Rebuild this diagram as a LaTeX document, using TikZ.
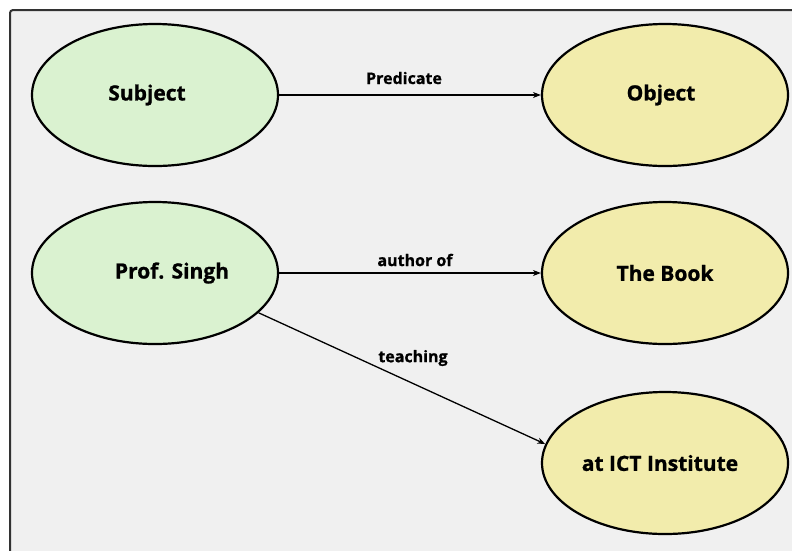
\documentclass[tikz,border=0pt]{standalone}
\usepackage{fontspec}
\setmainfont{Open Sans}[BoldFeatures={FakeBold=1.0}]
\usetikzlibrary{shapes.geometric,arrows.meta}
\definecolor{panelgray}{RGB}{240,240,240}
\definecolor{framegray}{RGB}{50,50,50}
\definecolor{subjgreen}{RGB}{218,242,208}
\definecolor{objyellow}{RGB}{242,236,172}
\tikzset{
  term/.style={ellipse, draw=black, line width=2.2pt, minimum width=246pt,
    minimum height=142pt, inner sep=0pt, font=\bfseries\fontsize{21}{24}\selectfont},
  subj/.style={term, fill=subjgreen},
  obj/.style={term, fill=objyellow},
  rel/.style={-{Stealth[length=8pt,width=6pt]}, line width=1.3pt},
  rellabel/.style={font=\bfseries\fontsize{16}{18}\selectfont}
}
\begin{document}
\begin{tikzpicture}[x=1pt,y=-1pt]
  \useasboundingbox (0,0) rectangle (792,550);
  \fill[white] (0,0) rectangle (792,550);
  \begin{scope}
    \clip (0,0) rectangle (792,550);
    \draw[framegray, fill=panelgray, line width=2pt, rounded corners=3pt]
      (10,10) rectangle (810,570);
  \end{scope}

  \node[subj] (s) at (155,95) {\hspace*{-16pt}Subject};
  \node[obj] (o) at (665,95) {\hspace*{-8pt}Object};
  \node[subj] (p) at (155,273) {\hspace*{34pt}Prof. Singh};
  \node[obj] (b) at (665,273) {The Book};
  \node[obj] (i) at (665,463) {\hspace*{-10pt}at ICT Institute};

  \draw[rel] (s) -- (o);
  \draw[rel] (p) -- (b);
  \draw[rel] (p.-21) -- (i.171);

  \node[rellabel] (lp) at (404,78) {Predicate};
  \node[rellabel] (la) at (415,260) {author of};
  \node[rellabel] (lt) at (413,358) {teaching};
\end{tikzpicture}
\end{document}
